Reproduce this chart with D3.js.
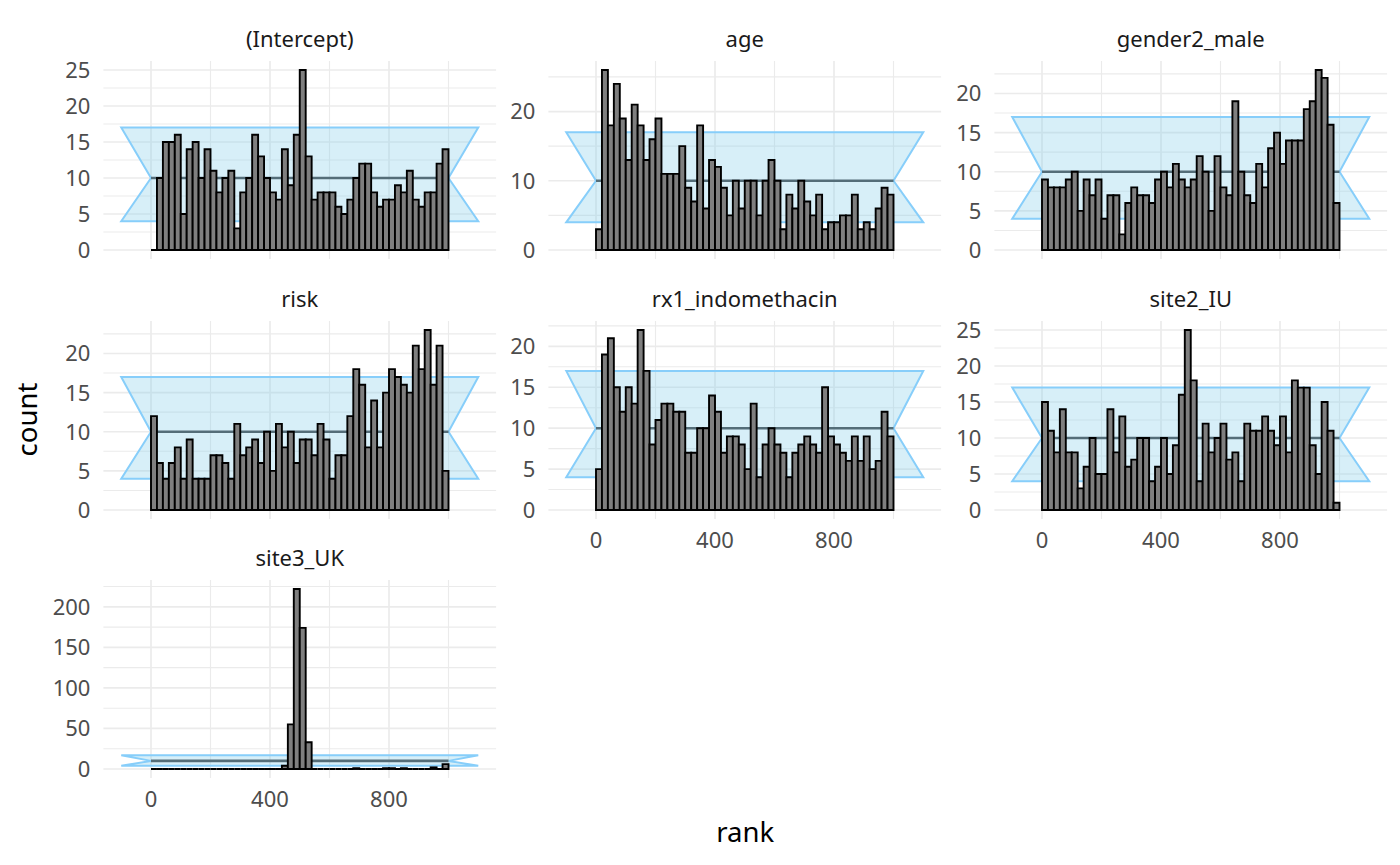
<!DOCTYPE html>
<html>
<head>
<meta charset="utf-8">
<script src="https://cdn.jsdelivr.net/npm/d3@7"></script>
<style>
  html, body { margin: 0; padding: 0; background: #ffffff; }
  svg { display: block; font-family: "Noto Sans", "Open Sans", sans-serif; }
</style>
</head>
<body>
<svg id="chart" width="1400" height="865"></svg>
<script>
// ---- data ----
const panelNames = ["(Intercept)", "age", "gender2_male", "risk", "rx1_indomethacin", "site2_IU", "site3_UK"];

const countsIntercept = [0,10,15,15,16,5,14,15,10,14,11,8,10,11,3,8,10,16,13,10,8,7,14,9,16,25,13,7,8,8,8,6,5,7,10,12,12,8,6,7,7,9,8,11,7,6,8,8,12,14];
const countsAge = [3,26,18,24,19,13,21,18,13,16,19,11,11,11,15,9,7,18,6,13,12,9,5,10,6,10,10,5,10,13,10,3,8,6,10,7,5,8,3,4,4,5,5,8,3,4,3,6,9,8];
const countsGender = [9,8,8,8,9,10,5,9,7,9,4,7,7,2,6,8,7,7,6,9,10,8,11,9,8,9,12,10,5,12,8,7,19,10,7,6,11,8,13,15,11,14,14,14,18,19,23,22,16,6];
const countsRisk = [12,6,4,6,8,4,9,4,4,4,7,7,6,4,11,7,8,9,6,10,5,11,8,10,6,9,9,7,11,9,4,7,7,12,18,16,8,14,8,15,18,17,16,15,21,18,23,16,21,5];
const countsRx1 = [5,19,21,15,12,15,13,22,17,8,11,13,13,12,12,7,7,10,10,14,12,7,9,9,8,5,13,4,8,10,8,7,4,7,8,9,8,7,15,9,8,7,6,9,6,9,5,6,12,9];
const countsSite2 = [15,11,8,14,8,8,3,6,10,5,5,14,8,13,6,7,10,10,4,6,10,5,9,16,25,18,4,12,8,10,12,7,8,4,12,11,11,13,11,9,13,8,18,17,17,9,5,15,11,1];
const countsSite3 = [0,0,0,0,0,0,0,0,0,0,0,0,0,0,0,0,0,0,0,0,0,0,4,55,222,174,33,0,0,0,0,0,0,0,1,0,0,0,0,1,1,0,1,0,0,0,0,2,0,6];

const panelCounts = [countsIntercept, countsAge, countsGender, countsRisk, countsRx1, countsSite2, countsSite3];

const binWidth = 20;           // rank units per bin
const expectedCount = 10;      // mean line
const ciLower = 4, ciUpper = 17;
const maxRank = 1000;

const yTickValues = [
  [0,5,10,15,20,25],
  [0,10,20],
  [0,5,10,15,20],
  [0,5,10,15,20],
  [0,5,10,15,20],
  [0,5,10,15,20,25],
  [0,50,100,150,200]
];
const xTickValues = [0, 400, 800];

// ---- layout ----
const colLeft = [103.4, 548.4, 994.4];
const panelW = 392.7;
const rowTop = [61, 321, 580];
const panelH = 198;
const tickFont = 22;
const titleFont = 27.5;

const svg = d3.select("#chart");

const xDomain = [-0.1 * maxRank, 1.1 * maxRank];
const xPad = (xDomain[1] - xDomain[0]) * 0.05;

// which panels show x-axis labels (no panel directly below)
const showX = [false, false, false, false, true, true, true];

panelNames.forEach((name, i) => {
  const col = i % 3, row = Math.floor(i / 3);
  const left = colLeft[col], top = rowTop[row];
  const counts = panelCounts[i];
  const g = svg.append("g").attr("transform", `translate(${left},${top})`);

  const x = d3.scaleLinear().domain([xDomain[0] - xPad, xDomain[1] + xPad]).range([0, panelW]);
  const ymax = Math.max(d3.max(counts), ciUpper);
  const y = d3.scaleLinear().domain([-0.05 * ymax, 1.05 * ymax]).range([panelH, 0]);

  // grid
  const yt = yTickValues[i];
  const ystep = yt[1] - yt[0];
  const yMinor = [];
  for (let v = yt[0] - ystep / 2; v <= y.domain()[1]; v += ystep) {
    if (v >= y.domain()[0]) yMinor.push(v);
  }
  const xstep = xTickValues[1] - xTickValues[0];
  const xMinor = [];
  for (let v = xTickValues[0] - xstep / 2; v <= x.domain()[1]; v += xstep) {
    if (v >= x.domain()[0]) xMinor.push(v);
  }
  const grid = g.append("g");
  grid.selectAll("line.ymin").data(yMinor).join("line")
    .attr("x1", 0).attr("x2", panelW)
    .attr("y1", d => y(d)).attr("y2", d => y(d))
    .attr("stroke", "#ebebeb").attr("stroke-width", 1.1);
  grid.selectAll("line.xmin").data(xMinor).join("line")
    .attr("y1", 0).attr("y2", panelH)
    .attr("x1", d => x(d)).attr("x2", d => x(d))
    .attr("stroke", "#ebebeb").attr("stroke-width", 1.1);
  grid.selectAll("line.ymaj").data(yt).join("line")
    .attr("x1", 0).attr("x2", panelW)
    .attr("y1", d => y(d)).attr("y2", d => y(d))
    .attr("stroke", "#ebebeb").attr("stroke-width", 1.7);
  grid.selectAll("line.xmaj").data(xTickValues).join("line")
    .attr("y1", 0).attr("y2", panelH)
    .attr("x1", d => x(d)).attr("x2", d => x(d))
    .attr("stroke", "#ebebeb").attr("stroke-width", 1.7);

  // CI polygon
  const poly = [
    [-0.1 * maxRank, ciUpper], [0, expectedCount], [-0.1 * maxRank, ciLower],
    [1.1 * maxRank, ciLower], [maxRank, expectedCount], [1.1 * maxRank, ciUpper]
  ];
  g.append("polygon")
    .attr("points", poly.map(p => `${x(p[0])},${y(p[1])}`).join(" "))
    .attr("fill", "rgba(135,206,235,0.33)")
    .attr("stroke", "#87cefa").attr("stroke-width", 2);

  // mean line
  g.append("line")
    .attr("x1", x(0)).attr("x2", x(maxRank))
    .attr("y1", y(expectedCount)).attr("y2", y(expectedCount))
    .attr("stroke", "#546d78").attr("stroke-width", 2.6);

  // bars (paths so that zero-count bins still draw their outline)
  g.append("g").selectAll("path").data(counts).join("path")
    .attr("d", (d, k) => {
      const x0 = x(k * binWidth), x1 = x((k + 1) * binWidth);
      const y0 = y(0), y1 = y(d);
      return `M${x0},${y0}L${x0},${y1}L${x1},${y1}L${x1},${y0}Z`;
    })
    .attr("fill", "#7f7f7f")
    .attr("stroke", "#000000").attr("stroke-width", 1.9)
    .attr("stroke-linejoin", "miter");

  // y axis labels
  g.append("g").selectAll("text").data(yt).join("text")
    .attr("x", -13).attr("y", d => y(d))
    .attr("dy", "0.36em")
    .attr("text-anchor", "end")
    .attr("font-size", tickFont)
    .attr("fill", "#4d4d4d")
    .text(d => d);

  // x axis labels
  if (showX[i]) {
    g.append("g").selectAll("text").data(xTickValues).join("text")
      .attr("x", d => x(d)).attr("y", panelH + 29)
      .attr("text-anchor", "middle")
      .attr("font-size", tickFont)
      .attr("fill", "#4d4d4d")
      .text(d => d);
  }

  // strip label
  g.append("text")
    .attr("x", panelW / 2).attr("y", -14.5)
    .attr("text-anchor", "middle")
    .attr("font-size", tickFont)
    .attr("fill", "#1a1a1a")
    .text(name);
});

// axis titles
const plotLeft = colLeft[0], plotRight = colLeft[2] + panelW;
const plotTop = rowTop[0], plotBottom = rowTop[2] + panelH;
svg.append("text")
  .attr("x", (plotLeft + plotRight) / 2).attr("y", 842)
  .attr("text-anchor", "middle")
  .attr("font-size", titleFont)
  .attr("fill", "#000000")
  .text("rank");
svg.append("text")
  .attr("transform", `translate(37,${(plotTop + plotBottom) / 2}) rotate(-90)`)
  .attr("text-anchor", "middle")
  .attr("font-size", titleFont)
  .attr("fill", "#000000")
  .text("count");
</script>
</body>
</html>
